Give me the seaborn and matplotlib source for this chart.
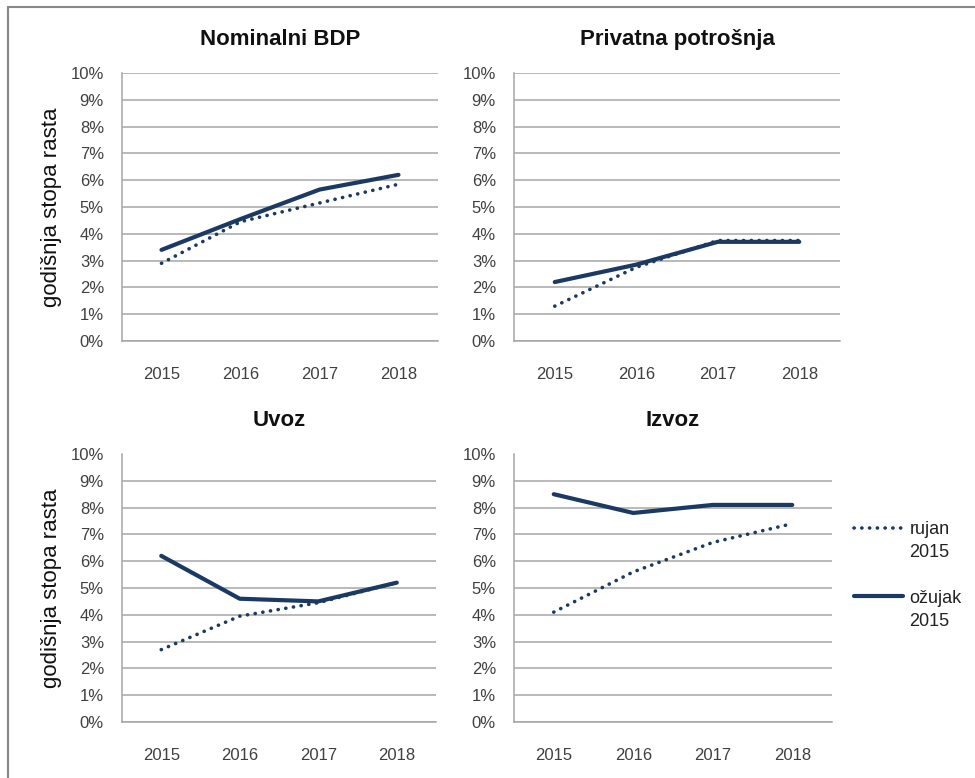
import numpy as np
import pandas as pd
import matplotlib
matplotlib.use('Agg')
import matplotlib.pyplot as plt
import seaborn as sns
from matplotlib.lines import Line2D

years = ['2015', '2016', '2017', '2018']

# godišnja stopa rasta (%)
nominalni_rujan = [2.9, 4.45, 5.15, 5.85]
nominalni_ozujak = [3.4, 4.55, 5.65, 6.2]
privatna_rujan = [1.3, 2.75, 3.75, 3.75]
privatna_ozujak = [2.2, 2.85, 3.7, 3.7]
uvoz_rujan = [2.7, 3.95, 4.45, 5.2]
uvoz_ozujak = [6.2, 4.6, 4.5, 5.2]
izvoz_rujan = [4.1, 5.6, 6.7, 7.4]
izvoz_ozujak = [8.5, 7.8, 8.1, 8.1]

titles = ['Nominalni BDP', 'Privatna potrošnja', 'Uvoz', 'Izvoz']
series = [(nominalni_rujan, nominalni_ozujak),
          (privatna_rujan, privatna_ozujak),
          (uvoz_rujan, uvoz_ozujak),
          (izvoz_rujan, izvoz_ozujak)]

sns.set_style('white')
plt.rcParams['font.family'] = ['Liberation Sans', 'DejaVu Sans']

navy = '#1B3A63'
grid_c = '#A6A6A6'
txt_c = '#404040'
dots = (0, (0.05, 2.1))

fig = plt.figure(figsize=(9.75, 7.78), dpi=100)

# axes boxes in pixels: left, top(10%), right, bottom(0%)
boxes = [(122, 73, 438, 341), (514, 73, 840, 341),
         (122, 454, 436, 722), (514, 454, 832, 722)]
W, H = 975, 778

for k, (l, t, r, b) in enumerate(boxes):
    ax = fig.add_axes([l / W, (H - b) / H, (r - l) / W, (b - t) / H])
    rujan, ozujak = series[k]
    df = pd.DataFrame({'godina': years * 2,
                       'rast': rujan + ozujak,
                       'projekcija': ['rujan 2015'] * 4 + ['ožujak 2015'] * 4})
    sns.lineplot(data=df[df.projekcija == 'rujan 2015'], x='godina', y='rast',
                 ax=ax, color=navy, lw=2.6, sort=False)
    ax.lines[-1].set_linestyle(dots)
    ax.lines[-1].set_dash_capstyle('round')
    sns.lineplot(data=df[df.projekcija == 'ožujak 2015'], x='godina', y='rast',
                 ax=ax, color=navy, lw=3.0, sort=False)
    ax.lines[-1].set_solid_capstyle('round')

    ax.set_xlim(-0.5, 3.5)
    ax.set_ylim(0, 10)
    ax.set_yticks(range(0, 11))
    ax.set_yticklabels([f'{v}%' for v in range(0, 11)])
    ax.set_xlabel('')
    ax.set_ylabel('')
    ax.tick_params(axis='both', length=0, labelsize=12, labelcolor=txt_c)
    ax.tick_params(axis='x', pad=19)
    ax.tick_params(axis='y', pad=13)

    ax.grid(axis='y', color=grid_c, lw=1.1)
    ax.set_axisbelow(True)
    if k >= 2:
        ax.yaxis.get_gridlines()[-1].set_visible(False)
    for s in ['top', 'right']:
        ax.spines[s].set_visible(False)
    for s in ['left', 'bottom']:
        ax.spines[s].set_color(grid_c)
        ax.spines[s].set_linewidth(1.1)

    ax.set_title(titles[k], fontsize=16, fontweight='bold', color='#111111', pad=20)
    if k in (0, 2):
        ax.set_ylabel('godišnja stopa rasta', fontsize=16, color='#111111', labelpad=6)

handles = [Line2D([], [], color=navy, lw=2.6, linestyle=dots, dash_capstyle='round'),
           Line2D([], [], color=navy, lw=3.0)]
leg = fig.legend(handles, ['rujan', 'ožujak'], loc='upper left',
                 bbox_to_anchor=(838 / W, (H - 505) / H), frameon=False,
                 fontsize=13, handlelength=2.7, handletextpad=0.35, labelspacing=2.85,
                 labelcolor='#222222')

# second line of each legend label sits under the first one, as in the original
fig.canvas.draw()
inv = fig.transFigure.inverted()
for t in leg.get_texts():
    bb = t.get_window_extent()
    x0, y0 = inv.transform((bb.x0, bb.y0))
    fig.text(x0, y0 - 6 / H, '2015', fontsize=13, color='#222222', ha='left', va='top')

# frame on the top and left edges
fig.add_artist(Line2D([8 / W, 1], [(H - 7) / H, (H - 7) / H], color='#888888', lw=1.5))
fig.add_artist(Line2D([8 / W, 8 / W], [0, (H - 7) / H], color='#888888', lw=1.5))

fig.savefig('out.png', dpi=100, facecolor='white')
